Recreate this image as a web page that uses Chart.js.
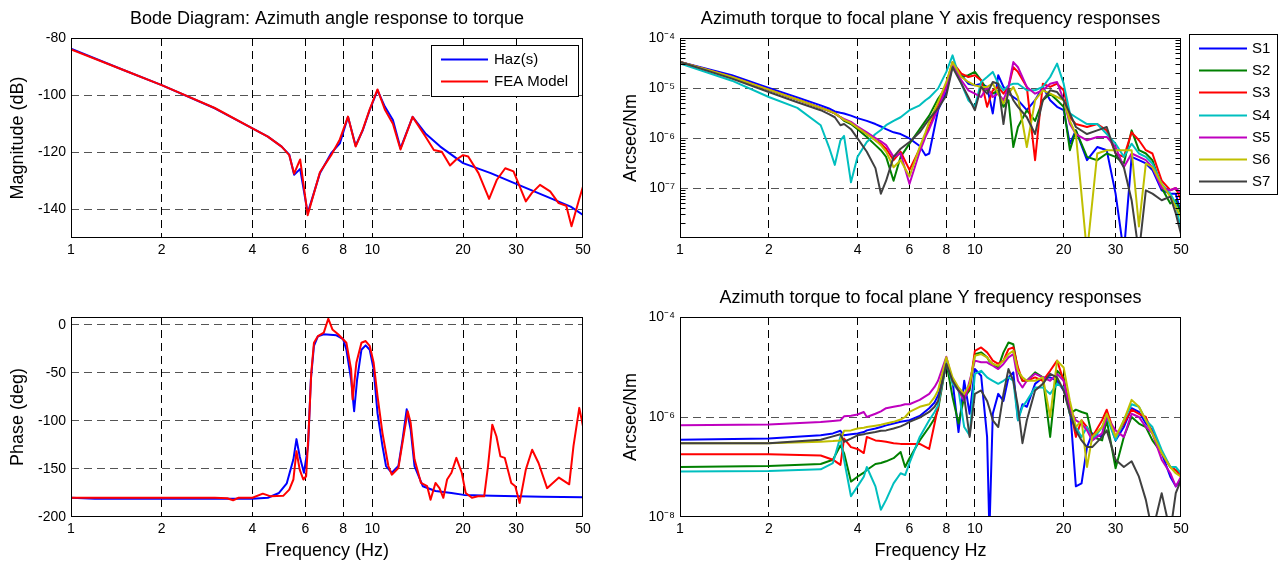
<!DOCTYPE html>
<html>
<head>
<meta charset="utf-8">
<script src="https://cdn.jsdelivr.net/npm/chart.js@4.4.1/dist/chart.umd.min.js"></script>
<style>
  body { margin: 0; background: #fff; }
  #wrap { position: relative; width: 1281px; height: 565px; overflow: hidden; }
  canvas { position: absolute; }
</style>
</head>
<body>
<div id="wrap">
  <canvas id="mag" width="640" height="280" style="left:0;top:0"></canvas>
  <canvas id="phase" width="640" height="285" style="left:0;top:280px"></canvas>
  <canvas id="yaxis" width="671" height="280" style="left:610px;top:0"></canvas>
  <canvas id="yfocal" width="671" height="285" style="left:610px;top:280px"></canvas>
</div>
<script>
// ---- shared ticks ----
const X_TICKS = [1, 2, 4, 6, 8, 10, 20, 30, 50];
const X_GRID = [2, 4, 6, 8, 10, 20, 30];

// ---- Bode magnitude (dB) ----
const MAG_F_HAZ = [1,1.5,2,3,4,4.5,5,5.3,5.5,5.76,6.1,6.7,7.3,7.8,8.3,8.8,9.3,9.8,10.4,11,11.7,12.4,13.6,15,16.8,20,24.7,29.6,36.7,45.5,50];
const MAG_HAZ = [-83.7,-91.3,-96.5,-104.6,-111.6,-114.5,-118,-120.8,-127.9,-125.8,-141.3,-127.3,-120.3,-116.9,-107.6,-117.7,-112.2,-105.2,-98.3,-104,-108.7,-118.6,-107.6,-113.4,-118,-123.8,-127.3,-130.8,-134.9,-139,-141.9];
const MAG_F_FEA = [1,1.5,2,3,4,4.5,5,5.3,5.5,5.76,6.1,6.7,7.3,7.8,8.3,8.8,9.3,9.8,10.4,11,11.7,12.4,13.6,15,16,17,18.1,18.9,20,20.8,22.5,24.4,25.9,27.6,29.4,32.3,33.8,36,38.9,41.5,44,45.8,48.5,50];
const MAG_FEA = [-84,-91.3,-96.5,-104.5,-111.6,-114.5,-118,-121,-127.5,-122.5,-142,-127,-121,-115.5,-107.5,-118,-112,-105,-98,-105,-110,-119,-107.6,-114.5,-119.2,-119.8,-124.6,-122.7,-121,-121.5,-127.3,-136.3,-129.6,-125.6,-126.7,-137.2,-134.3,-131.4,-133.7,-137.8,-138.7,-145.9,-136.6,-132];
const MAG_TICKS = [-140, -120, -100, -80];
const MAG_GRID = [-140, -120, -100];

// ---- Bode phase (deg) ----
const PH_F_HAZ = [1,1.2,2,3,4,4.5,4.9,5.2,5.47,5.6,5.74,5.93,6.12,6.25,6.4,6.6,6.9,7.6,8.0,8.2,8.5,8.7,8.9,9.2,9.5,9.8,10.1,10.4,10.8,11.1,11.6,12.2,12.6,13.0,13.4,13.8,14.7,16.2,18.3,20.1,25,36.5,50];
const PH_HAZ = [-180,-181,-181,-181,-181,-180,-175,-165,-140,-119,-137,-154,-126,-57,-22,-12,-10,-11,-15,-26,-57,-90,-57,-26,-21.5,-26,-46.5,-92,-126,-147,-154,-147,-119,-88,-109,-147,-168,-173,-175,-177,-178,-179,-179.5];
const PH_F_FEA = [1,2,3,3.3,3.45,3.6,4,4.33,4.6,5.06,5.3,5.47,5.6,5.74,5.9,6.03,6.15,6.27,6.4,6.6,6.9,7.14,7.37,7.7,8.2,8.5,8.6,8.85,9.2,9.5,9.8,10.1,10.4,10.8,11.3,11.6,12.2,12.8,13.1,13.4,13.8,14.5,15.2,15.6,16.2,16.7,17.2,17.7,18.3,19.0,19.8,20.4,21.4,22.4,23.5,24.2,25.0,25.8,26.6,27.5,28.9,29.8,30.8,32.3,33.9,35.6,38.0,41.6,45.0,46.5,48.6,50];
const PH_FEA = [-180,-180,-180,-180.5,-182.6,-180,-180,-175.7,-178.5,-178,-171.5,-161,-131.6,-150.7,-161,-157.6,-109,-50,-18.75,-11.8,-8.3,6.25,-4.9,-10,-18.75,-46.5,-77.8,-39.6,-18.75,-17,-22,-39.6,-74,-112.5,-147,-156,-149,-109,-90,-102,-140,-164.6,-168,-182,-164.6,-170,-180,-161,-154,-138.5,-154,-175,-180,-178.5,-178.5,-147,-104,-116,-137,-138.5,-164.6,-168,-185.4,-150.7,-130,-143.8,-170,-159,-166,-126,-86.5,-105.6];
const PH_TICKS = [-200, -150, -100, -50, 0];
const PH_GRID = [-150, -100, -50, 0];

// ---- sensor names / colours ----
const S_LABELS = ['S1', 'S2', 'S3', 'S4', 'S5', 'S6', 'S7'];
const S_COLORS = ['#0000ff', '#008000', '#ff0000', '#00bfbf', '#bf00bf', '#bfbf00', '#404040'];
const MICRO = 1e-6; // values below are in micro-arcsec/Nm

// ---- focal plane Y axis responses (top right) ----
const TR_F = [1,1.5,2,2.5,3,3.2,3.35,3.5,3.6,3.8,4,4.3,4.6,4.8,5,5.3,5.6,6,6.5,6.8,7,7.5,8,8.4,9,9.5,10,10.5,11,11.5,12,12.5,13,13.5,14,15,16,17,18,19,20,21,22,24,26,28,30,32,34,36,38,40,43,46,48,50];
const TR_S1 = [33,18,10,6.5,4.5,3.9,3.4,3.2,3.1,2.8, 2.5,2.2,1.9,1.7,1.5,1.3,1.2,0.98,0.69,0.45, 0.49,3.6,8.3,28,18,12.2,11.3,12.2,10.5,3.1, 18,10.5,7.7,6.6,5.7,3.6,5.7,10.5,5.7,4.2, 3.6,0.77,1.42,0.36,0.66,0.57,0.077,0.005,0.42,0.36, 0.31,0.23,0.09,0.077,0.077,0.031];
const TR_S2 = [33,16.6,9.3,5.9,4.0,3.5,3.1,2.6,2.2,1.9, 1.5,1.05,0.72,0.57,0.42,0.14,0.42,0.77,1.5,2.2, 2.8,6.1,10.5,31,16.6,18,21,14.2,9.0,7.7, 9.0,4.2,5.7,0.66,1.66,3.6,2.2,5.7,7.7,5.7, 4.2,0.57,1.42,0.42,0.36,0.49,0.42,0.31,1.42,0.57, 0.49,0.36,0.10,0.049,0.057,0.031];
const TR_S3 = [33,16.6,9.3,5.9,4.0,3.5,3.1,2.6,2.3,2.0, 1.6,1.2,0.9,0.77,0.61,0.36,0.53,0.23,0.61,1.2, 1.66,4.5,12.2,33,19.4,16.6,18,14.2,4.2,9.0, 10.5,7.7,10.5,26,21,10.5,0.36,12.2,10.5,12.2, 9.0,2.6,1.9,1.66,1.9,1.42,0.49,0.42,1.3,0.9, 0.57,0.49,0.14,0.09,0.10,0.057];
const TR_S4 = [31,14,6.6,4.0,1.8,0.66,0.29,0.9,1.1,0.13, 0.42,0.83,1.2,1.45,1.8,2.2,2.6,3.6,4.5,5.7, 6.4,9.7,21,45,12.2,5.7,4.2,13.2,16.6,21, 12.2,9.0,11.3,12.2,12.2,9.0,9.0,10.5,16.6,30.7, 12.2,3.1,2.6,1.9,1.9,1.2,0.77,0.42,0.77,0.49, 0.42,0.31,0.12,0.077,0.049,0.014];
const TR_S5 = [33,16.6,9.3,5.9,4.0,3.5,3.1,2.6,2.4,2.1, 1.7,1.3,1.0,0.86,0.72,0.42,0.49,0.12,0.53,1.05, 1.5,3.9,10.2,31,14.2,9.0,7.7,6.6,10.5,6.6, 7.7,5.7,10.5,33,26,10.5,7.7,9.0,12.2,13.2, 5.7,1.9,1.2,0.9,1.05,1.05,0.66,0.26,0.49,0.42, 0.36,0.26,0.10,0.09,0.10,0.077];
const TR_S6 = [33,16.6,9.3,5.9,4.0,3.5,3.1,2.6,2.3,2.0, 1.6,1.2,0.9,0.72,0.53,0.26,0.36,0.17,0.66,1.3, 2.1,5.2,13.2,33,16.6,13.2,11.3,10.5,10.5,12.2, 7.7,4.9,7.7,10.5,6.6,0.66,5.7,9.0,7.7,6.6, 5.7,2.2,1.2,0.005,0.49,0.57,0.57,0.57,0.57,0.017, 0.31,0.26,0.12,0.067,0.042,0.026];
const TR_S7 = [33,15.4,8.3,5.2,3.6,3.0,2.6,1.8,1.9,1.5, 0.98,0.53,0.25,0.077,0.14,0.42,0.61,0.83,1.3,1.9, 2.4,3.9,7.1,26,12.2,6.6,3.6,10.5,7.7,13.2, 12.2,1.9,9.7,5.7,4.2,2.6,1.2,5.7,9.0,8.3, 5.7,3.1,1.66,1.2,1.42,1.66,0.49,0.26,0.057,0.005, 0.09,0.077,0.057,0.067,0.031,0.012];
const TR_Y_TICKS = [1e-7, 1e-6, 1e-5, 1e-4];
const TR_Y_LABELS = ['10\u207B\u2077', '10\u207B\u2076', '10\u207B\u2075', '10\u207B\u2074'];
const TR_Y_GRID = [1e-7, 1e-6, 1e-5];

// ---- focal plane Y responses (bottom right) ----
const BR_F = [1,2,3,3.3,3.5, 3.6,3.8,4,4.2,4.3, 4.6,4.8,5,5.3,5.6, 5.8,6,6.5,7,7.3, 7.5,8,8.4,8.8,9.2, 9.6,10,10.5,11,11.2, 11.5,12,12.5,13,13.5, 14,14.5,15,16,17, 18,19,20,21,22, 23,24,25,27,28, 30,32,34,36,38, 40,43,46,48,50];
const BR_S1 = [0.35,0.37,0.43,0.47,0.53, 0.43,0.45,0.47,0.50,0.54, 0.59,0.63,0.68,0.74,0.80, 0.83,0.86,1.05,1.5,1.95, 2.7,10.6,5.3,0.50,5.3, 1.16,9.1,6.7,0.40,0.005, 1.16,2.9,2.1,6.2,7.8, 0.86,1.8,1.6,4.6,6.2, 6.2,5.3,3.4,1.6,0.041, 0.047,0.25,0.47,0.40,1.16, 0.34,0.63,1.5,1.26,0.74, 0.54,0.19,0.064,0.041,0.055];
const BR_S2 = [0.10,0.105,0.115,0.14,0.27, 0.19,0.051,0.064,0.077,0.087, 0.115,0.12,0.13,0.15,0.20, 0.10,0.15,0.34,0.63,0.93, 1.4,12.4,2.5,0.74,2.5, 3.4,18.1,19.6,15.6,13, 11.5,9.8,19.6,30.9,28.6, 8.4,5.3,5.3,7.8,6.2, 0.40,8.4,6.2,1.16,1.4, 1.26,1.16,0.40,0.34,0.86, 0.094,0.40,1.0,0.74,0.63, 0.34,0.19,0.10,0.087,0.075];
const BR_S3 = [0.18,0.18,0.17,0.14,0.11, 0.37,0.25,0.23,0.19,0.40, 0.34,0.33,0.32,0.30,0.29, 0.29,0.29,0.29,0.23,0.74, 1.6,13.4,5.3,3.4,2.5, 3.9,21.1,24.6,19.6,17, 13.4,11.5,13.4,22.8,24.6, 9.8,5.3,5.3,6.2,5.3, 8.4,13.4,5.3,1.6,0.40, 0.86,0.63,0.40,0.86,1.4, 0.40,0.74,1.4,1.16,1.0, 0.47,0.19,0.10,0.087,0.064];
const BR_S4 = [0.081,0.083,0.090,0.12,0.40, 0.14,0.026,0.041,0.064,0.10, 0.041,0.014,0.022,0.047,0.075, 0.069,0.12,0.40,0.86,1.26, 1.7,12.4,4.6,3.4,0.63, 0.43,7.3,8.4,6.2,5.8, 5.3,4.6,5.3,6.2,5.3, 0.86,1.6,2.1,3.9,3.9, 2.9,4.6,3.9,1.16,0.63, 0.40,0.63,0.34,0.63,1.0, 0.34,0.86,1.8,1.6,0.86, 0.63,0.22,0.10,0.10,0.075];
const BR_S5 = [0.68,0.71,0.79,0.83,0.86, 1.03,1.06,1.12,1.26,1.0, 1.16,1.3,1.5,1.6,1.7, 1.8,1.8,2.2,2.9,4.0, 5.3,16.0,5.3,3.4,2.1, 5.3,13.4,12.4,12.4,11.5, 10.6,9.1,11.5,15.6,18.1, 5.3,3.9,5.3,7.3,6.2, 5.3,7.3,5.3,1.4,0.86, 0.74,0.54,0.34,0.47,1.0, 0.54,0.40,1.16,1.0,0.63, 0.47,0.14,0.075,0.041,0.064];
const BR_S6 = [0.30,0.30,0.32,0.33,0.34, 0.53,0.54,0.59,0.61,0.63, 0.67,0.70,0.74,0.80,0.89, 1.0,1.26,1.6,1.8,2.5, 3.4,15.6,6.2,3.9,2.9, 4.6,16.8,18.1,15.6,13.5, 11.5,10.6,13.4,18.1,21.1, 8.4,6.2,5.3,5.3,6.2, 1.0,13.4,9.8,2.1,0.63, 0.86,0.10,0.40,0.63,1.16, 0.40,0.86,2.2,1.6,0.86, 0.47,0.19,0.10,0.075,0.064];
const BR_S7 = [0.30,0.30,0.35,0.41,0.45, 0.32,0.37,0.43,0.45,0.47, 0.50,0.53,0.54,0.59,0.65, 0.71,0.80,0.97,1.26,1.6, 2.1,11.5,5.3,3.4,2.5, 0.40,2.9,3.4,2.1,1.5, 0.86,0.63,2.9,9.1,5.3, 1.6,0.30,0.86,3.4,4.6, 7.3,6.2,3.4,1.16,0.54, 0.34,0.25,0.25,0.40,0.54, 0.14,0.10,0.13,0.064,0.022, 0.005,0.030,0.005,0.030,0.055];
const BR_Y_TICKS = [1e-8, 1e-6, 1e-4];
const BR_Y_LABELS = ['10\u207B\u2078', '10\u207B\u2076', '10\u207B\u2074'];
const BR_Y_GRID = [1e-6];

// ---------------------------------------------------------------
const FONT = "'Liberation Sans', Arial, Helvetica, sans-serif";
const NONE = 'rgba(0,0,0,0)';
Chart.defaults.font.family = FONT;
Chart.defaults.color = '#000';

function pts(fs, vs, k) {
  return fs.map((f, i) => ({ x: f, y: vs[i] * (k || 1) }));
}

function line(label, data, color, order) {
  return {
    label, data, order,
    borderColor: color, backgroundColor: color,
    borderWidth: 2, pointRadius: 0, tension: 0, fill: false,
    borderJoinStyle: 'round', borderCapStyle: 'round'
  };
}

function xScale(title, height) {
  return {
    type: 'logarithmic', min: 1, max: 50,
    afterBuildTicks: s => { s.ticks = X_TICKS.map(v => ({ value: v })); },
    afterFit: s => { s.height = height; },
    ticks: { autoSkip: false, maxRotation: 0, padding: 4, font: { size: 14 }, callback: v => String(v) },
    grid: { drawTicks: false, lineWidth: 1, color: c => (c.tick && X_GRID.includes(c.tick.value)) ? '#000' : NONE },
    border: { display: false, dash: [8, 5] },
    title: title ? { display: true, text: title, font: { size: 18 }, padding: { top: 0, bottom: 3 } } : { display: false }
  };
}

function yScale(o) {
  return {
    type: o.type, min: o.min, max: o.max,
    afterBuildTicks: s => { s.ticks = o.ticks.map(v => ({ value: v })); },
    afterFit: s => { s.width = o.width; },
    ticks: { padding: 5, font: { size: 14 }, callback: o.labels ? (v, i) => o.labels[i] : v => String(v) },
    grid: { drawTicks: false, lineWidth: 1, color: c => (c.tick && o.grid.includes(c.tick.value)) ? '#555' : NONE },
    border: { display: false, dash: [8, 5] },
    title: { display: true, text: o.title, font: { size: 18 }, padding: { top: o.tpad, bottom: 0 } }
  };
}

// axes box, plus inner minor ticks for log axes
const framePlugin = {
  id: 'frame',
  afterDraw(chart, args, o) {
    const { ctx, chartArea: a } = chart;
    const l = Math.round(a.left) + 0.5, t = Math.round(a.top) + 0.5;
    const r = Math.round(a.right) - 0.5, b = Math.round(a.bottom) - 0.5;
    ctx.save();
    ctx.strokeStyle = '#000';
    ctx.lineWidth = 1;
    ctx.setLineDash([]);
    ctx.strokeRect(l, t, r - l, b - t);
    if (o.minor) {
      const ys = chart.scales.y;
      ctx.beginPath();
      for (let d = -8; d < -4; d++) {
        for (let k = 2; k < 10; k++) {
          const p = Math.round(ys.getPixelForValue(k * Math.pow(10, d))) + 0.5;
          if (p <= t || p >= b) continue;
          ctx.moveTo(l, p); ctx.lineTo(l + 5, p);
          ctx.moveTo(r, p); ctx.lineTo(r - 5, p);
        }
      }
      ctx.stroke();
    }
    ctx.restore();
  }
};

// MATLAB-style boxed legend
const boxLegend = {
  id: 'boxLegend',
  afterDraw(chart, args, o) {
    if (!o.box) return;
    const ctx = chart.ctx;
    const [x, y, w, h] = o.box;
    ctx.save();
    ctx.fillStyle = '#fff';
    ctx.fillRect(x, y, w, h);
    ctx.strokeStyle = '#000';
    ctx.lineWidth = 1;
    ctx.strokeRect(x + 0.5, y + 0.5, w, h);
    ctx.font = '15px ' + FONT;
    ctx.textBaseline = 'middle';
    chart.data.datasets.forEach((ds, i) => {
      const yy = Math.round(y + o.first + i * o.step) + 0.5;
      ctx.strokeStyle = ds.borderColor;
      ctx.lineWidth = 2;
      ctx.beginPath();
      ctx.moveTo(x + o.x0, yy);
      ctx.lineTo(x + o.x1, yy);
      ctx.stroke();
      ctx.fillStyle = '#000';
      ctx.fillText(ds.label, x + o.tx, yy);
    });
    ctx.restore();
  }
};

function options(o) {
  return {
    responsive: false, animation: false, events: [],
    layout: { padding: o.padding },
    scales: { x: o.x, y: o.y },
    plugins: {
      legend: { display: false },
      tooltip: { enabled: false },
      title: o.title ? {
        display: true, text: o.title, fullSize: false,
        font: { size: 18, weight: 'normal' },
        padding: { top: o.titlePad[0], bottom: o.titlePad[1] }
      } : { display: false },
      frame: { minor: !!o.minor },
      boxLegend: o.legend || { box: null }
    }
  };
}

// top left: magnitude
new Chart(document.getElementById('mag'), {
  type: 'line',
  data: { datasets: [
    line('Haz(s)', pts(MAG_F_HAZ, MAG_HAZ), '#0000ff', 2),
    line('FEA Model', pts(MAG_F_FEA, MAG_FEA), '#ff0000', 1)
  ] },
  options: options({
    padding: { left: 0, top: 0, right: 57, bottom: 0 },
    title: 'Bode Diagram: Azimuth angle response to torque', titlePad: [8, 8.4],
    x: xScale(null, 42),
    y: yScale({ type: 'linear', min: -150, max: -80, ticks: MAG_TICKS, grid: MAG_GRID, width: 71, title: 'Magnitude (dB)', tpad: 7.7 }),
    legend: { box: [431, 45, 147, 51], first: 14, step: 22, x0: 10, x1: 57, tx: 63 }
  }),
  plugins: [framePlugin, boxLegend]
});

// bottom left: phase
new Chart(document.getElementById('phase'), {
  type: 'line',
  data: { datasets: [
    line('Haz(s)', pts(PH_F_HAZ, PH_HAZ), '#0000ff', 2),
    line('FEA Model', pts(PH_F_FEA, PH_FEA), '#ff0000', 1)
  ] },
  options: options({
    padding: { left: 0, top: 37, right: 57, bottom: 0 },
    x: xScale('Frequency (Hz)', 48),
    y: yScale({ type: 'linear', min: -200, max: 8, ticks: PH_TICKS, grid: PH_GRID, width: 71, title: 'Phase (deg)', tpad: 7.7 })
  }),
  plugins: [framePlugin, boxLegend]
});

// top right: focal plane Y axis
const TR_S = [TR_S1, TR_S2, TR_S3, TR_S4, TR_S5, TR_S6, TR_S7];
new Chart(document.getElementById('yaxis'), {
  type: 'line',
  data: { datasets: S_LABELS.map((lab, i) => line(lab, pts(TR_F, TR_S[i], MICRO), S_COLORS[i], 7 - i)) },
  options: options({
    padding: { left: 0, top: 0, right: 100, bottom: 0 },
    title: 'Azimuth torque to focal plane Y axis frequency responses', titlePad: [8, 8.4],
    x: xScale(null, 42),
    y: yScale({ type: 'logarithmic', min: 1e-8, max: 1e-4, ticks: TR_Y_TICKS, labels: TR_Y_LABELS, grid: TR_Y_GRID, width: 70, title: 'Arcsec/Nm', tpad: 10 }),
    minor: true,
    legend: { box: [579, 34, 88, 160], first: 14, step: 22.2, x0: 10, x1: 58, tx: 63 }
  }),
  plugins: [framePlugin, boxLegend]
});

// bottom right: focal plane Y
const BR_S = [BR_S1, BR_S2, BR_S3, BR_S4, BR_S5, BR_S6, BR_S7];
new Chart(document.getElementById('yfocal'), {
  type: 'line',
  data: { datasets: S_LABELS.map((lab, i) => line(lab, pts(BR_F, BR_S[i], MICRO), S_COLORS[i], 7 - i)) },
  options: options({
    padding: { left: 0, top: 0, right: 100, bottom: 0 },
    title: 'Azimuth torque to focal plane Y frequency responses', titlePad: [7, 8.4],
    x: xScale('Frequency Hz', 48),
    y: yScale({ type: 'logarithmic', min: 1e-8, max: 1e-4, ticks: BR_Y_TICKS, labels: BR_Y_LABELS, grid: BR_Y_GRID, width: 70, title: 'Arcsec/Nm', tpad: 10 })
  }),
  plugins: [framePlugin, boxLegend]
});
</script>
</body>
</html>
